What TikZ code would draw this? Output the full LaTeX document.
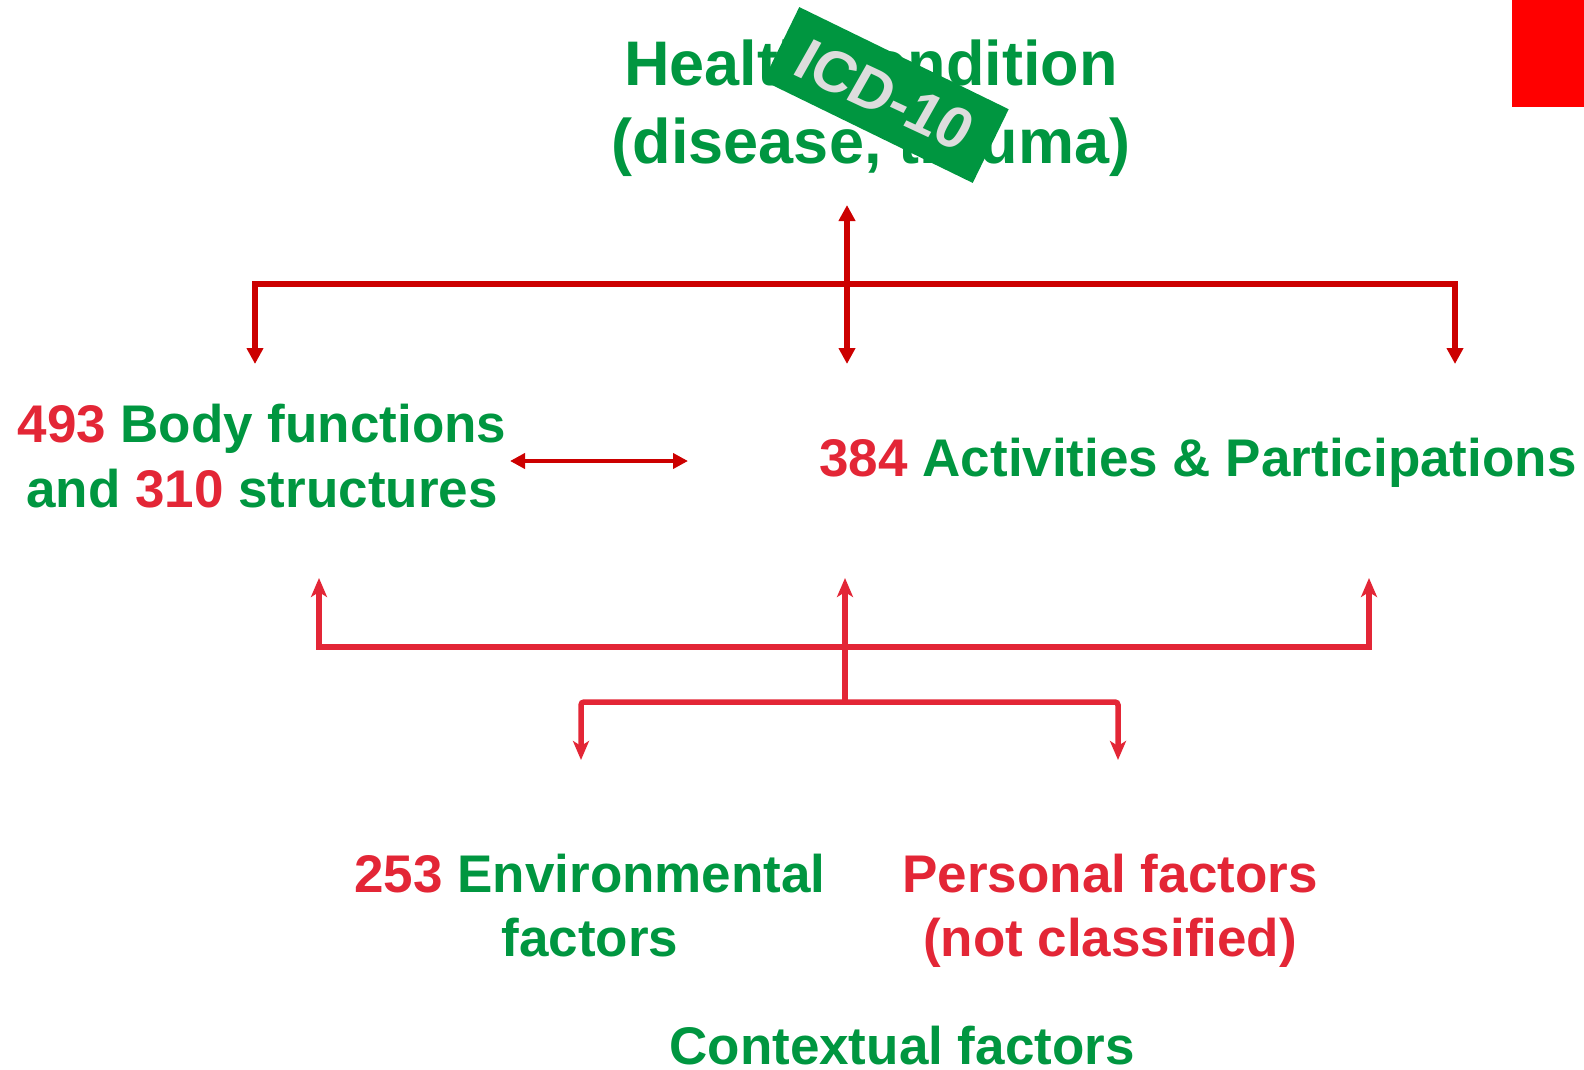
\documentclass[tikz,border=0pt]{standalone}
\usepackage{fontspec}
\setmainfont{Liberation Sans}
\usetikzlibrary{arrows.meta}
\definecolor{icfgreen}{RGB}{0,150,64}
\definecolor{icfred}{RGB}{227,38,54}
\definecolor{darkred}{RGB}{204,0,0}
\definecolor{badgegray}{RGB}{221,221,221}
\tikzset{
  big/.style={font=\fontsize{63}{75}\selectfont\bfseries, text=icfgreen, anchor=base, inner sep=0pt},
  mid/.style={font=\fontsize{53}{64}\selectfont\bfseries, text=icfgreen, anchor=base, inner sep=0pt},
  toparrow/.style={draw=darkred, line width=5.5pt, {Triangle[length=16pt,width=16pt]}-{Triangle[length=16pt,width=16pt]}},
  botarrow/.style={draw=icfred, line width=5.5pt, rounded corners=3pt, {Stealth[length=19pt,width=16pt,inset=5pt]}-{Stealth[length=19pt,width=16pt,inset=5pt]}},
  botup/.style={draw=icfred, line width=5.5pt, -{Stealth[length=19pt,width=16pt,inset=5pt]}}
}
\begin{document}
\begin{tikzpicture}[x=1pt,y=-1pt]
\useasboundingbox (0,0) rectangle (1584,1070);
\clip (0,0) rectangle (1584,1070);
% red square
\fill[red] (1512,0) rectangle (1584,107);
% top texts
\node[big] (hc1) at (871,86) {Health condition};
\node[big] (hc2) at (871,163) {(disease, trauma)};
% ICD-10 badge
\node[fill=icfgreen, minimum width=233pt, minimum height=82pt, rotate=-26, inner sep=0pt] (badge) at (886,95) {};
\node[font=\fontsize{59}{60}\selectfont\bfseries, text=badgegray, rotate=-25, xslant=0.08, inner sep=0pt] (icd) at (885,95) {ICD-10};
% middle texts
\node[mid] (bf1) at (262,442) {\textcolor{icfred}{493} Body functions};
\node[mid] (bf2) at (262,507) {and \textcolor{icfred}{310} structures};
\node[mid] (ap) at (1198,476) {\textcolor{icfred}{384} Activities \& Participations};
% bottom texts
\node[mid] (ef1) at (590,892) {\textcolor{icfred}{253} Environmental};
\node[mid] (ef2) at (590,956) {factors};
\node[mid, text=icfred] (pf1) at (1110,892) {Personal factors};
\node[mid, text=icfred] (pf2) at (1110,956) {(not classified)};
\node[mid] (cf) at (902,1064) {Contextual factors};
% top connectors
\coordinate (hcTip) at (847,205);
\coordinate (cTip) at (847,364);
\coordinate (lTip) at (255,364);
\coordinate (lCorner) at (255,284);
\coordinate (rCorner) at (1455,284);
\coordinate (rTip) at (1455,364);
\draw[toparrow] (lTip) -- (lCorner) -- (rCorner) -- (rTip);
\draw[toparrow] (hcTip) -- (cTip);
% horizontal double arrow
\coordinate (hL) at (510,461);
\coordinate (hR) at (688,461);
\draw[draw=darkred, line width=4.5pt, {Triangle[length=15pt,width=15pt]}-{Triangle[length=15pt,width=15pt]}] (hL) -- (hR);
% bottom connectors
\coordinate (bL) at (319,578);
\coordinate (bLc) at (319,647);
\coordinate (bRc) at (1369,647);
\coordinate (bR) at (1369,578);
\coordinate (bC) at (845,578);
\coordinate (bCj) at (845,702);
\coordinate (eTip) at (581,760);
\coordinate (eCorner) at (581,702);
\coordinate (pCorner) at (1118,702);
\coordinate (pTip) at (1118,760);
\draw[botarrow, rounded corners=0pt] (bL) -- (bLc) -- (bRc) -- (bR);
\draw[botup] (bCj) -- (bC);
\draw[botarrow] (eTip) -- (eCorner) -- (pCorner) -- (pTip);
\end{tikzpicture}
\end{document}
